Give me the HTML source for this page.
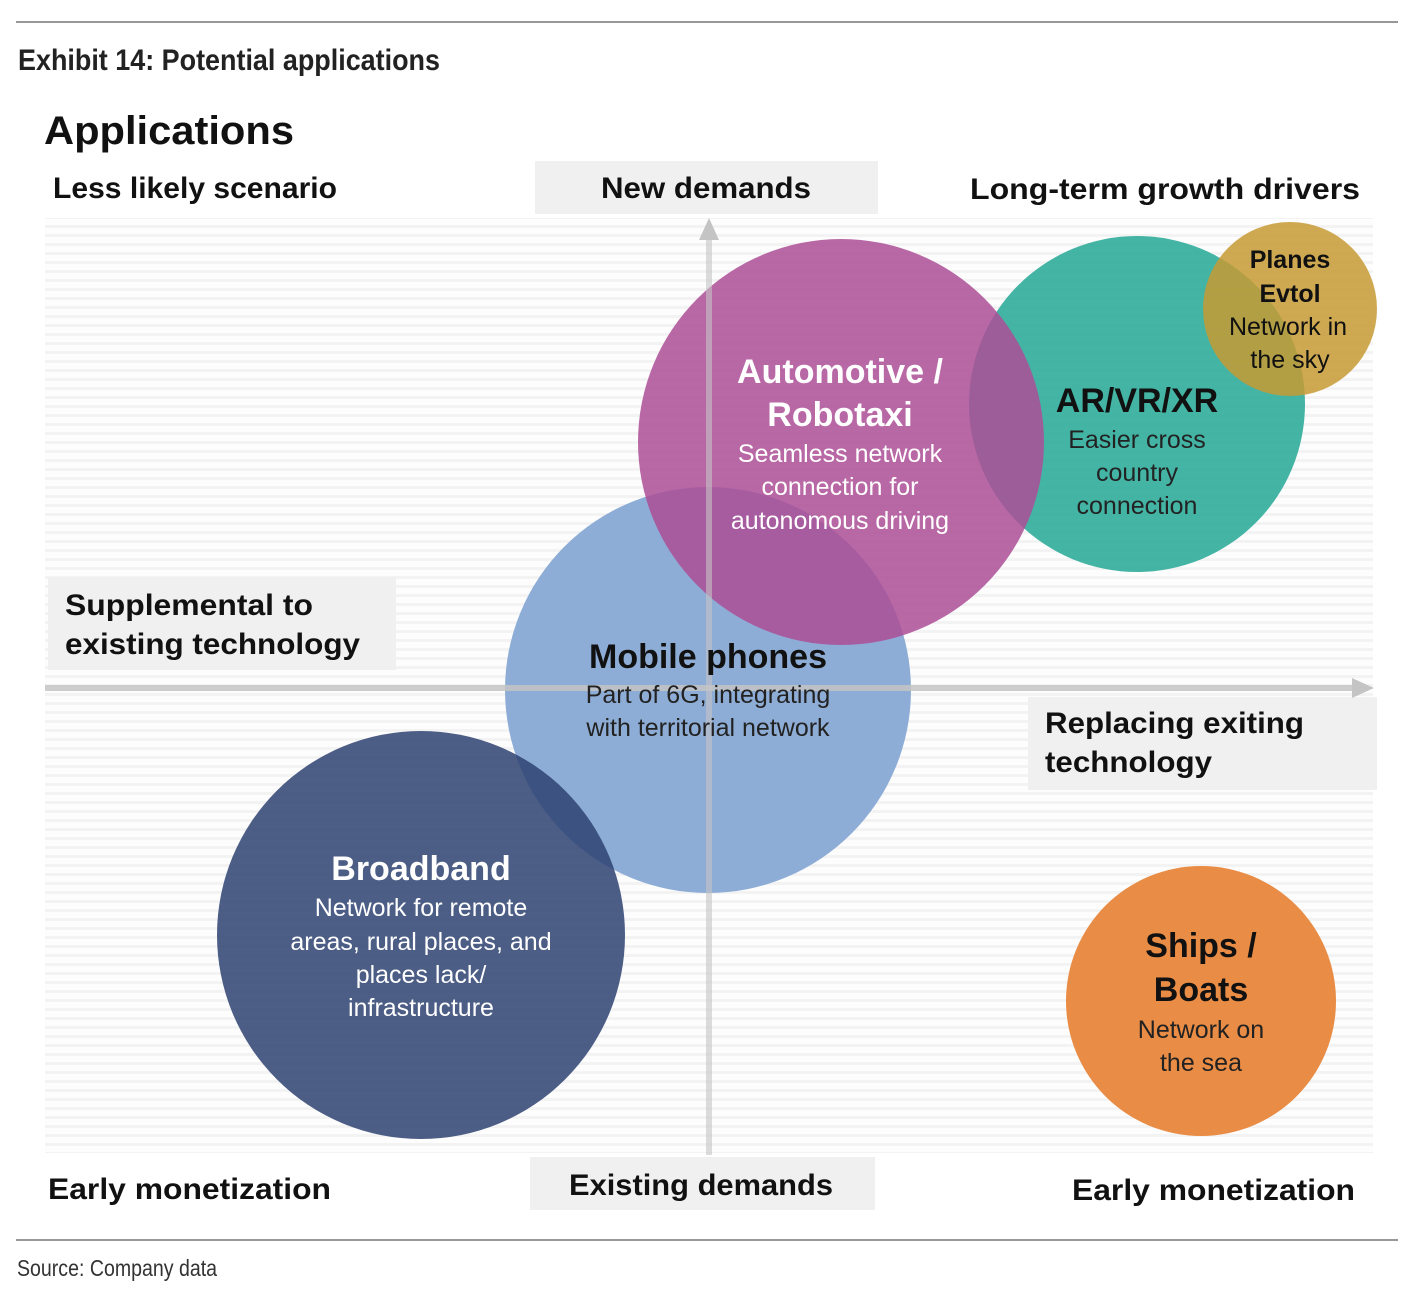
<!DOCTYPE html>
<html><head><meta charset="utf-8"><style>
html,body{margin:0;padding:0;background:#fff;}
svg{display:block;font-family:"Liberation Sans","DejaVu Sans",sans-serif;}
</style></head><body>
<svg width="1420" height="1291" viewBox="0 0 1420 1291" xmlns="http://www.w3.org/2000/svg">
<defs>
<pattern id="st" width="10" height="9" patternUnits="userSpaceOnUse">
<rect width="10" height="9" fill="#fdfdfd"/><rect y="0" width="10" height="3" fill="#f3f3f3"/>
</pattern>
</defs>
<line x1="16" y1="22" x2="1398" y2="22" stroke="#777" stroke-width="1.5"/>
<text x="18" y="70" font-size="30" font-weight="bold" fill="#222" textLength="422" lengthAdjust="spacingAndGlyphs">Exhibit 14: Potential applications</text>
<text x="44" y="144" font-size="40" font-weight="bold" fill="#111" textLength="250" lengthAdjust="spacingAndGlyphs">Applications</text>
<text x="53" y="198" font-size="30" font-weight="bold" fill="#111" textLength="284" lengthAdjust="spacingAndGlyphs">Less likely scenario</text>
<text x="970" y="199" font-size="30" font-weight="bold" fill="#111" textLength="390" lengthAdjust="spacingAndGlyphs">Long-term growth drivers</text>

<rect x="45" y="218" width="1328" height="935" fill="url(#st)"/>

<rect x="535" y="161" width="343" height="53" fill="#f0f0f0"/>
<text x="706" y="198" font-size="30" font-weight="bold" fill="#111" text-anchor="middle" textLength="210" lengthAdjust="spacingAndGlyphs">New demands</text>
<rect x="48" y="577" width="348" height="93" fill="#f0f0f0"/>
<text x="65" y="615" font-size="30" font-weight="bold" fill="#111" textLength="248" lengthAdjust="spacingAndGlyphs">Supplemental to</text>
<text x="65" y="654" font-size="30" font-weight="bold" fill="#111" textLength="295" lengthAdjust="spacingAndGlyphs">existing technology</text>
<rect x="1028" y="697" width="349" height="93" fill="#f0f0f0"/>
<text x="1045" y="733" font-size="30" font-weight="bold" fill="#111" textLength="259" lengthAdjust="spacingAndGlyphs">Replacing exiting</text>
<text x="1045" y="772" font-size="30" font-weight="bold" fill="#111" textLength="167" lengthAdjust="spacingAndGlyphs">technology</text>
<rect x="530" y="1157" width="345" height="53" fill="#f0f0f0"/>
<text x="701" y="1195" font-size="30" font-weight="bold" fill="#111" text-anchor="middle" textLength="264" lengthAdjust="spacingAndGlyphs">Existing demands</text>
<text x="48" y="1199" font-size="30" font-weight="bold" fill="#111" textLength="283" lengthAdjust="spacingAndGlyphs">Early monetization</text>
<text x="1072" y="1200" font-size="30" font-weight="bold" fill="#111" textLength="283" lengthAdjust="spacingAndGlyphs">Early monetization</text>

<!-- circles -->
<circle cx="708" cy="690" r="203" fill="#8eadd6"/>
<circle cx="421" cy="935" r="204" fill="#2f4272" fill-opacity="0.86"/>
<circle cx="1137" cy="404" r="168" fill="#2aaa98" fill-opacity="0.88"/>
<circle cx="841" cy="442" r="203" fill="#ad4d97" fill-opacity="0.85"/>
<circle cx="1290" cy="309" r="87" fill="#c69a33" fill-opacity="0.85"/>
<circle cx="1201" cy="1001" r="135" fill="#e98c45"/>

<!-- axes -->
<line x1="45" y1="688" x2="1356" y2="688" stroke="#c4c4c4" stroke-opacity="0.85" stroke-width="6"/>
<polygon points="1352,678 1374,688 1352,698" fill="#c4c4c4"/>
<line x1="709" y1="1155" x2="709" y2="236" stroke="#c4c4c4" stroke-opacity="0.6" stroke-width="6"/>
<polygon points="699,240 709,218 719,240" fill="#c4c4c4"/>

<!-- circle text -->
<g font-weight="bold" fill="#fff" text-anchor="middle">
<text x="840" y="383" font-size="34">Automotive /</text>
<text x="840" y="426" font-size="34">Robotaxi</text>
</g>
<g fill="#fff" text-anchor="middle" font-size="25">
<text x="840" y="462">Seamless network</text>
<text x="840" y="495">connection for</text>
<text x="840" y="529">autonomous driving</text>
</g>
<text x="708" y="668" font-size="34" font-weight="bold" fill="#111" text-anchor="middle">Mobile phones</text>
<text x="708" y="703" font-size="25" fill="#222" text-anchor="middle">Part of 6G, integrating</text>
<text x="708" y="736" font-size="25" fill="#222" text-anchor="middle">with territorial network</text>
<text x="1137" y="412" font-size="34" font-weight="bold" fill="#111" text-anchor="middle">AR/VR/XR</text>
<g fill="#222" text-anchor="middle" font-size="25">
<text x="1137" y="448">Easier cross</text>
<text x="1137" y="481">country</text>
<text x="1137" y="514">connection</text>
</g>
<g fill="#111" text-anchor="middle" font-size="25">
<text x="1290" y="268" font-weight="bold">Planes</text>
<text x="1290" y="302" font-weight="bold">Evtol</text>
<text x="1288" y="335">Network in</text>
<text x="1290" y="368">the sky</text>
</g>
<text x="421" y="880" font-size="34" font-weight="bold" fill="#fff" text-anchor="middle">Broadband</text>
<g fill="#fff" text-anchor="middle" font-size="25">
<text x="421" y="916">Network for remote</text>
<text x="421" y="950">areas, rural places, and</text>
<text x="421" y="983">places lack/</text>
<text x="421" y="1016">infrastructure</text>
</g>
<text x="1201" y="957" font-size="34" font-weight="bold" fill="#111" text-anchor="middle">Ships /</text>
<text x="1201" y="1001" font-size="34" font-weight="bold" fill="#111" text-anchor="middle">Boats</text>
<text x="1201" y="1038" font-size="25" fill="#222" text-anchor="middle">Network on</text>
<text x="1201" y="1071" font-size="25" fill="#222" text-anchor="middle">the sea</text>

<line x1="16" y1="1240" x2="1398" y2="1240" stroke="#777" stroke-width="1.5"/>
<text x="17" y="1276" font-size="23" fill="#333" textLength="200" lengthAdjust="spacingAndGlyphs">Source: Company data</text>
</svg>
</body></html>
